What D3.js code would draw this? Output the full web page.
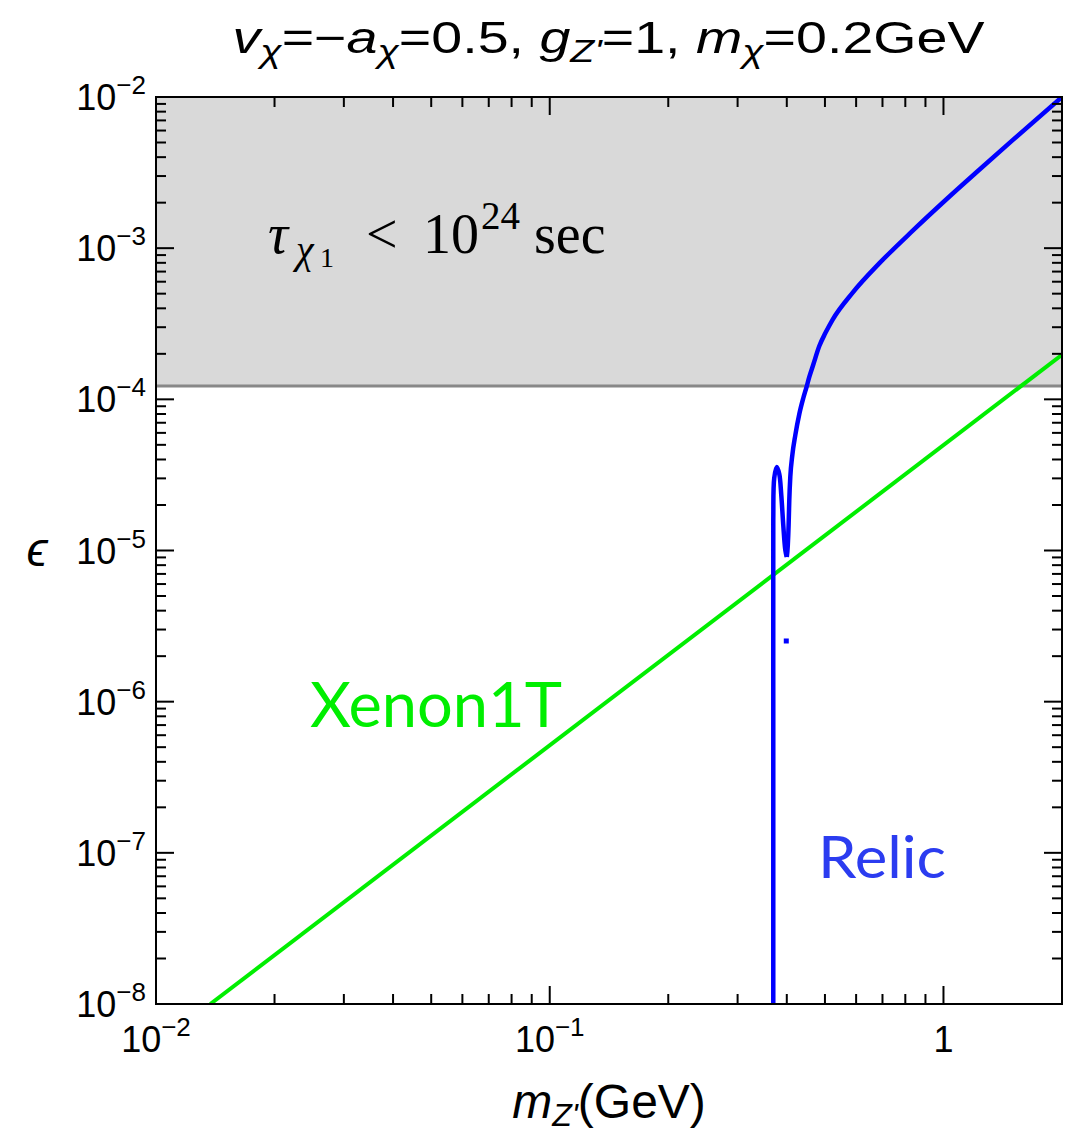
<!DOCTYPE html>
<html>
<head>
<meta charset="utf-8">
<script src="https://cdn.jsdelivr.net/npm/d3@7"></script>
<style>
  body { margin: 0; background: #fff; }
  svg text { font-family: "Liberation Sans", Arial, sans-serif; }
</style>
</head>
<body>
<div id="chart"></div>
<script>
// ---- data ----
const xenonMass = [0.01374, 2.0];
const xenonEps  = [1e-8, 1.97e-4];

// relic-density curve, resonance part (m_Z' in GeV, epsilon)
const relicLowMass = [0.3696, 0.3696, 0.3696, 0.3717, 0.3772, 0.3828, 0.3873, 0.3918, 0.3965, 0.4000];
const relicLowEps  = [1e-8, 1.03e-6, 1.59e-5, 3.02e-5, 3.57e-5, 3.21e-5, 2.33e-5, 1.48e-5, 1.01e-5, 9.06e-6];

// relic-density curve, rising branch
const relicHighMass = [0.4000, 0.4024, 0.4043, 0.4059, 0.4083, 0.4132, 0.4205, 0.4304, 0.4406,
                       0.4491, 0.4563, 0.4671, 0.4838, 0.5012, 0.5231, 0.5881, 0.6877, 0.8356,
                       1.016, 1.235, 1.501, 2.0];
const relicHighEps  = [9.06e-6, 1.087e-5, 1.475e-5, 2.158e-5, 3.064e-5, 4.283e-5, 5.808e-5, 8.00e-5, 1.020e-4,
                       1.21e-4, 1.407e-4, 1.700e-4, 2.253e-4, 2.742e-4, 3.370e-4, 5.083e-4, 7.956e-4, 1.306e-3,
                       2.099e-3, 3.315e-3, 5.202e-3, 1e-2];

// isolated relic point
const islandMass = [0.3988];
const islandEps  = [2.52e-6];

// lifetime bound (shaded above)
const lifetimeEps = 1.225e-4;

const xMajor = [0.01, 0.1, 1];
const xMajorLabels = [["10", "\u22122"], ["10", "\u22121"], ["1", ""]];
const yMajor = [1e-8, 1e-7, 1e-6, 1e-5, 1e-4, 1e-3, 1e-2];
const yMajorLabels = ["\u22128", "\u22127", "\u22126", "\u22125", "\u22124", "\u22123", "\u22122"];

// ---- layout ----
const width = 1065, height = 1137;
const plot = {left: 156, right: 1062, top: 97, bottom: 1004};

const svg = d3.select("#chart").append("svg")
    .attr("width", width)
    .attr("height", height);

const x = d3.scaleLog().domain([0.01, 2]).range([plot.left, plot.right]);
const y = d3.scaleLog().domain([1e-8, 1e-2]).range([plot.bottom, plot.top]);

svg.append("clipPath").attr("id", "clip")
  .append("rect")
    .attr("x", plot.left).attr("y", plot.top)
    .attr("width", plot.right - plot.left)
    .attr("height", plot.bottom - plot.top);

const g = svg.append("g").attr("clip-path", "url(#clip)");

// shaded excluded region
g.append("rect")
    .attr("x", plot.left)
    .attr("y", y(1e-2))
    .attr("width", plot.right - plot.left)
    .attr("height", y(lifetimeEps) - y(1e-2))
    .attr("fill", "#d9d9d9");

g.append("line")
    .attr("x1", plot.left).attr("x2", plot.right)
    .attr("y1", y(lifetimeEps)).attr("y2", y(lifetimeEps))
    .attr("stroke", "#888").attr("stroke-width", 3);

// XENON1T line
const xenon = xenonMass.map((m, i) => [m, xenonEps[i]]);
g.append("path")
    .datum(xenon)
    .attr("d", d3.line().x(d => x(d[0])).y(d => y(d[1])))
    .attr("fill", "none")
    .attr("stroke", "#00ee00")
    .attr("stroke-width", 4);

// relic curve
const relicLow = relicLowMass.map((m, i) => [m, relicLowEps[i]]);
const relicHigh = relicHighMass.map((m, i) => [m, relicHighEps[i]]);
g.append("path")
    .datum(relicLow)
    .attr("d", d3.line().x(d => x(d[0])).y(d => y(d[1])).curve(d3.curveCatmullRom.alpha(0.5)))
    .attr("fill", "none")
    .attr("stroke", "#0000ff")
    .attr("stroke-width", 4.5)
    .attr("stroke-linejoin", "round");
g.append("path")
    .datum(relicHigh)
    .attr("d", d3.line().x(d => x(d[0])).y(d => y(d[1])).curve(d3.curveMonotoneX))
    .attr("fill", "none")
    .attr("stroke", "#0000ff")
    .attr("stroke-width", 4.5)
    .attr("stroke-linejoin", "round");

g.selectAll("rect.island")
    .data(islandMass.map((m, i) => [m, islandEps[i]]))
    .enter().append("rect")
    .attr("class", "island")
    .attr("x", d => x(d[0]) - 2.5)
    .attr("y", d => y(d[1]) - 2.5)
    .attr("width", 5).attr("height", 5)
    .attr("fill", "#0000ff");

// ---- frame and ticks ----
svg.append("rect")
    .attr("x", plot.left).attr("y", plot.top)
    .attr("width", plot.right - plot.left)
    .attr("height", plot.bottom - plot.top)
    .attr("fill", "none")
    .attr("stroke", "#000")
    .attr("stroke-width", 2);

const majorLen = 18, minorLen = 10;
const xMinor = [];
[0.01, 0.1, 1].forEach(d => { for (let k = 2; k <= 9; k++) if (d * k < 2) xMinor.push(d * k); });
const yMinor = [];
[1e-8, 1e-7, 1e-6, 1e-5, 1e-4, 1e-3].forEach(d => { for (let k = 2; k <= 9; k++) yMinor.push(d * k); });

const ticks = svg.append("g").attr("stroke", "#000").attr("stroke-width", 2);
function xTick(v, len) {
  ticks.append("line").attr("x1", x(v)).attr("x2", x(v)).attr("y1", plot.bottom).attr("y2", plot.bottom - len);
  ticks.append("line").attr("x1", x(v)).attr("x2", x(v)).attr("y1", plot.top).attr("y2", plot.top + len);
}
function yTick(v, len) {
  ticks.append("line").attr("y1", y(v)).attr("y2", y(v)).attr("x1", plot.left).attr("x2", plot.left + len);
  ticks.append("line").attr("y1", y(v)).attr("y2", y(v)).attr("x1", plot.right).attr("x2", plot.right - len);
}
xMajor.forEach(v => xTick(v, majorLen));
xMinor.forEach(v => xTick(v, minorLen));
yMajor.forEach(v => yTick(v, majorLen));
yMinor.forEach(v => yTick(v, minorLen));

// tick labels
const tickFont = 36, supFont = 26;
xMajor.forEach((v, i) => {
  const t = svg.append("text")
      .attr("x", x(v)).attr("y", 1052)
      .attr("text-anchor", "middle")
      .attr("font-size", tickFont);
  t.append("tspan").text(xMajorLabels[i][0]);
  if (xMajorLabels[i][1]) {
    t.append("tspan").attr("dy", -16).attr("font-size", supFont).text(xMajorLabels[i][1]);
  }
});

yMajor.forEach((v, i) => {
  const t = svg.append("text")
      .attr("x", 146).attr("y", y(v) + 13)
      .attr("text-anchor", "end")
      .attr("font-size", tickFont);
  t.append("tspan").text("10");
  t.append("tspan").attr("dy", -16).attr("font-size", supFont).text(yMajorLabels[i]);
});

// ---- titles and labels ----
const titleX = (232 + 985) / 2;
const title = svg.append("text")
    .attr("x", titleX).attr("y", 53)
    .attr("text-anchor", "middle")
    .attr("font-size", 44);
title.append("tspan").attr("font-style", "italic").text("v");
title.append("tspan").attr("font-style", "italic").attr("font-size", 31).attr("dy", 9).text("\u03c7");
title.append("tspan").attr("dy", -9).text("=\u2212");
title.append("tspan").attr("font-style", "italic").text("a");
title.append("tspan").attr("font-style", "italic").attr("font-size", 31).attr("dy", 9).text("\u03c7");
title.append("tspan").attr("dy", -9).text("=0.5, ");
title.append("tspan").attr("font-style", "italic").text("g");
title.append("tspan").attr("font-style", "italic").attr("font-size", 31).attr("dy", 9).text("Z'");
title.append("tspan").attr("dy", -9).text("=1, ");
title.append("tspan").attr("font-style", "italic").text("m");
title.append("tspan").attr("font-style", "italic").attr("font-size", 31).attr("dy", 9).text("\u03c7");
title.append("tspan").attr("dy", -9).text("=0.2GeV");
const tw = title.node().getBBox().width;
title.attr("transform", `translate(${titleX},0) scale(${753 / tw},1) translate(${-titleX},0)`);

const xl = svg.append("text")
    .attr("x", 609).attr("y", 1118)
    .attr("text-anchor", "middle")
    .attr("font-size", 48);
xl.append("tspan").attr("font-style", "italic").text("m");
xl.append("tspan").attr("font-style", "italic").attr("font-size", 32).attr("dy", 8).text("Z'");
xl.append("tspan").attr("dy", -8).text("(GeV)");

svg.append("text")
    .attr("x", 37).attr("y", 566)
    .attr("text-anchor", "middle")
    .attr("font-size", 48)
    .attr("font-style", "italic")
    .text("\u03f5");

// region label
const serif = "'Liberation Serif', 'DejaVu Serif', serif";
const tau = svg.append("text")
    .attr("y", 253)
    .style("font-family", serif)
    .attr("font-size", 56)
    .attr("fill", "#000");
tau.append("tspan").attr("x", 268).attr("font-style", "italic").text("\u03c4");
tau.append("tspan").attr("x", 296).attr("font-style", "italic").attr("font-size", 40).attr("dy", 10).text("\u03c7");
tau.append("tspan").attr("x", 320).attr("font-size", 28).attr("dy", 4).text("1");
tau.append("tspan").attr("x", 366).attr("dy", -14).text("<");
tau.append("tspan").attr("x", 423).text("10");
tau.append("tspan").attr("x", 481).attr("font-size", 39).attr("dy", -24).text("24");
tau.append("tspan").attr("x", 534).attr("dy", 24).text("sec");

svg.append("text")
    .attr("x", 310).attr("y", 727)
    .style("font-family", "Lato, 'Open Sans', sans-serif")
    .attr("font-size", 62)
    .attr("textLength", 252)
    .attr("lengthAdjust", "spacingAndGlyphs")
    .attr("fill", "#00ee00")
    .text("Xenon1T");

svg.append("text")
    .attr("x", 818).attr("y", 878)
    .style("font-family", "Lato, 'Open Sans', sans-serif")
    .attr("font-size", 58)
    .attr("textLength", 128)
    .attr("lengthAdjust", "spacingAndGlyphs")
    .attr("fill", "#2b3cf0")
    .text("Relic");
</script>
</body>
</html>
